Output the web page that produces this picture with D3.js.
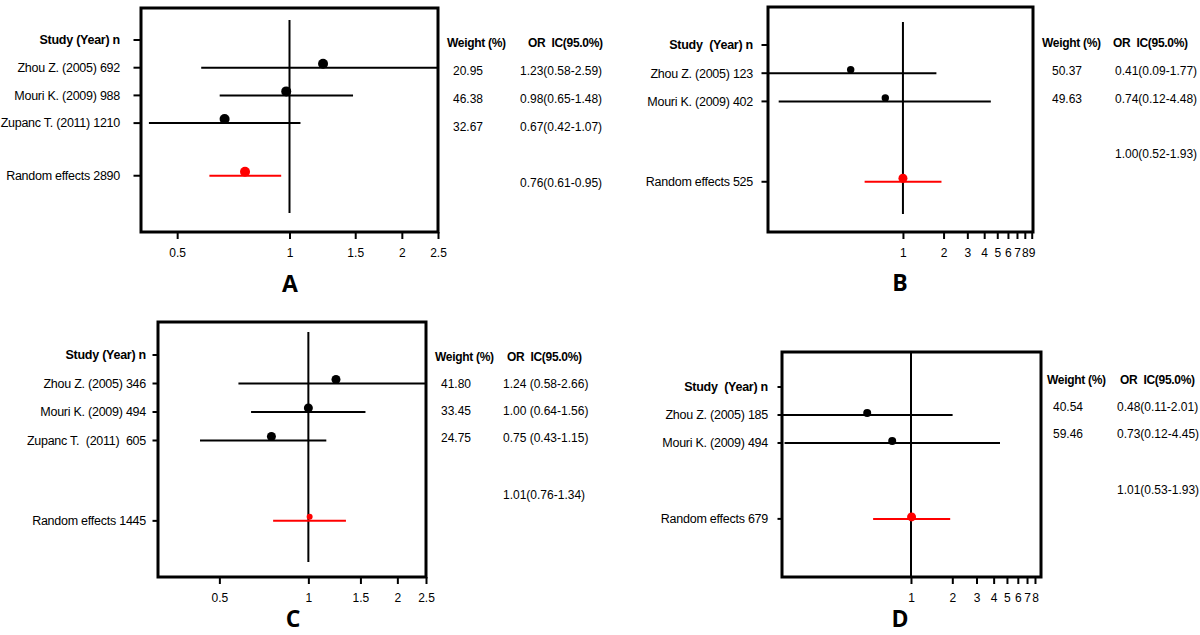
<!DOCTYPE html>
<html lang="en">
<head>
<meta charset="UTF-8">
<title>Forest plots A-D</title>
<script src="https://d3js.org/d3.v7.min.js"></script>
<style>
  body { margin: 0; background: #fff; }
  svg { display: block; font-family: "Liberation Sans", Arial, sans-serif; }
  .lbl { font-size: 12.5px; letter-spacing: -0.25px; white-space: pre; }
  .hdr { font-weight: bold; }
  .val { font-size: 12px; white-space: pre; }
  .col-hdr { font-size: 12px; font-weight: bold; letter-spacing: -0.3px; white-space: pre; }
  .axis text { font-size: 12px; font-family: "Liberation Sans", Arial, sans-serif; fill: #000; }
  .axis line { stroke: #000; stroke-width: 2; }
  .letter { font-family: "Open Sans", sans-serif; font-weight: bold; font-size: 23px; }
</style>
</head>
<body>
<svg id="chart" width="1200" height="635"></svg>
<script>
// ---- data ----
// A
const studiesA = ["Zhou Z. (2005) 692", "Mouri K. (2009) 988", "Zupanc T. (2011) 1210"];
const weightsA = [20.95, 46.38, 32.67];
const orA = [1.23, 0.98, 0.67];
const lowerA = [0.58, 0.65, 0.42];
const upperA = [2.59, 1.48, 1.07];
const pooledA = [0.76, 0.61, 0.95];   // OR, lower, upper
const ticksA = [0.5, 1, 1.5, 2, 2.5];

// B
const studiesB = ["Zhou Z. (2005) 123", "Mouri K. (2009) 402"];
const weightsB = [50.37, 49.63];
const orB = [0.41, 0.74];
const lowerB = [0.09, 0.12];
const upperB = [1.77, 4.48];
const pooledB = [1.00, 0.52, 1.93];
const ticksB = [1, 2, 3, 4, 5, 6, 7, 8, 9];

// C
const studiesC = ["Zhou Z. (2005) 346", "Mouri K. (2009) 494", "Zupanc T.  (2011)  605"];
const weightsC = [41.80, 33.45, 24.75];
const orC = [1.24, 1.00, 0.75];
const lowerC = [0.58, 0.64, 0.43];
const upperC = [2.66, 1.56, 1.15];
const pooledC = [1.01, 0.76, 1.34];
const ticksC = [0.5, 1, 1.5, 2, 2.5];

// D
const studiesD = ["Zhou Z. (2005) 185", "Mouri K. (2009) 494"];
const weightsD = [40.54, 59.46];
const orD = [0.48, 0.73];
const lowerD = [0.11, 0.12];
const upperD = [2.01, 4.45];
const pooledD = [1.01, 0.53, 1.93];
const ticksD = [1, 2, 3, 4, 5, 6, 7, 8];

const pooledLabels = ["Random effects 2890", "Random effects 525", "Random effects 1445", "Random effects 679"];

// ---- layout per panel ----
const panels = [
  { letter: "A", studies: studiesA, weights: weightsA, or: orA, lo: lowerA, hi: upperA, pooled: pooledA,
    pooledLabel: pooledLabels[0], header: "Study (Year) n", ticks: ticksA, domain: [0.4, 2.5],
    box: [141, 8, 438, 232], rowY0: 40, rowStep: 27.7, pooledRow: 4.9, tickLen: 6, labelX: 120,
    refTop: 20, refBottom: 213, dotR: 5, poolR: 5, dotDy: -4,
    colWh: 447, colW: 453, colORh: 528, colOR: 520, textY0: 43, textStep: 28, pooledTextRow: 5, sep: "",
    letterX: 290, letterY: 284 },
  { letter: "B", studies: studiesB, weights: weightsB, or: orB, lo: lowerB, hi: upperB, pooled: pooledB,
    pooledLabel: pooledLabels[1], header: "Study  (Year) n", ticks: ticksB, domain: [0.1, 9.2],
    box: [768, 7, 1033, 232], rowY0: 45, rowStep: 28.2, pooledRow: 4.85, tickLen: 5, labelX: 753,
    refTop: 22, refBottom: 214, dotR: 3.7, poolR: 4.5, dotDy: -3.5,
    colWh: 1042, colW: 1052, colORh: 1113, colOR: 1115, textY0: 43, textStep: 28, pooledTextRow: 3.96, sep: "",
    letterX: 900, letterY: 283 },
  { letter: "C", studies: studiesC, weights: weightsC, or: orC, lo: lowerC, hi: upperC, pooled: pooledC,
    pooledLabel: pooledLabels[2], header: "Study (Year) n", ticks: ticksC, domain: [0.31, 2.5],
    box: [158, 322, 426, 577], rowY0: 355, rowStep: 28.5, pooledRow: 5.82, tickLen: 4, labelX: 146,
    refTop: 332, refBottom: 562, dotR: 4.5, poolR: 3, dotDy: -4,
    colWh: 435, colW: 441, colORh: 507, colOR: 503, textY0: 357, textStep: 27, pooledTextRow: 5.1, sep: " ",
    letterX: 293, letterY: 619 },
  { letter: "D", studies: studiesD, weights: weightsD, or: orD, lo: lowerD, hi: upperD, pooled: pooledD,
    pooledLabel: pooledLabels[3], header: "Study  (Year) n", ticks: ticksD, domain: [0.115, 8.85],
    box: [782, 352, 1041, 577], rowY0: 387, rowStep: 28, pooledRow: 4.71, tickLen: 3, labelX: 768,
    refTop: 352, refBottom: 577, dotR: 4, poolR: 4.5, dotDy: -2,
    colWh: 1047, colW: 1053, colORh: 1120, colOR: 1117, textY0: 380, textStep: 27, pooledTextRow: 4.07, sep: "",
    letterX: 900, letterY: 619 }
];

const svg = d3.select("#chart");
const f2 = d3.format(".2f");

function drawPanel(p) {
  const [x0, y0, x1, y1] = p.box;
  const g = svg.append("g");
  const x = d3.scaleLog().domain(p.domain).range([x0, x1]).clamp(true);
  const y = d3.scaleLinear().domain([0, 1]).range([p.rowY0, p.rowY0 + p.rowStep]);
  const ty = d3.scaleLinear().domain([0, 1]).range([p.textY0, p.textY0 + p.textStep]);

  // bottom axis ticks
  const ax = g.append("g").attr("class", "axis")
    .attr("transform", `translate(0,${y1})`)
    .call(d3.axisBottom(x).tickValues(p.ticks).tickSize(7).tickPadding(9).tickFormat(d => d));
  ax.select(".domain").remove();

  // box
  g.append("rect")
    .attr("x", x0).attr("y", y0)
    .attr("width", x1 - x0).attr("height", y1 - y0)
    .attr("fill", "none").attr("stroke", "#000").attr("stroke-width", 3);

  // rows: header, studies, pooled
  const rows = [{ label: p.header, idx: 0, hdr: true }]
    .concat(p.studies.map((s, i) => ({ label: s, idx: i + 1 })))
    .concat([{ label: p.pooledLabel, idx: p.pooledRow }]);

  g.selectAll(".row-tick").data(rows).enter().append("line")
    .attr("x1", x0 - 1.5 - p.tickLen).attr("x2", x0)
    .attr("y1", d => y(d.idx)).attr("y2", d => y(d.idx))
    .attr("stroke", "#000").attr("stroke-width", 2);

  g.selectAll(".row-lbl").data(rows).enter().append("text")
    .attr("class", d => d.hdr ? "lbl hdr" : "lbl")
    .attr("x", p.labelX).attr("y", d => y(d.idx))
    .attr("dy", "0.35em").attr("text-anchor", "end")
    .text(d => d.label);

  // reference line at OR = 1
  g.append("line")
    .attr("x1", x(1)).attr("x2", x(1))
    .attr("y1", p.refTop).attr("y2", p.refBottom)
    .attr("stroke", "#000").attr("stroke-width", 2);

  // study CIs and points
  const st = p.studies.map((s, i) => ({ or: p.or[i], lo: p.lo[i], hi: p.hi[i], idx: i + 1 }));
  g.selectAll(".ci").data(st).enter().append("line")
    .attr("x1", d => x(d.lo)).attr("x2", d => x(d.hi))
    .attr("y1", d => y(d.idx)).attr("y2", d => y(d.idx))
    .attr("stroke", "#000").attr("stroke-width", 2);
  g.selectAll(".pt").data(st).enter().append("circle")
    .attr("cx", d => x(d.or)).attr("cy", d => y(d.idx) + p.dotDy)
    .attr("r", p.dotR).attr("fill", "#000");

  // pooled estimate
  const [por, plo, phi] = p.pooled;
  g.append("line")
    .attr("x1", x(plo)).attr("x2", x(phi))
    .attr("y1", y(p.pooledRow)).attr("y2", y(p.pooledRow))
    .attr("stroke", "#f00").attr("stroke-width", 2);
  g.append("circle")
    .attr("cx", x(por)).attr("cy", y(p.pooledRow) + p.dotDy)
    .attr("r", p.poolR).attr("fill", "#f00");

  // right-hand columns
  g.append("text").attr("class", "col-hdr")
    .attr("x", p.colWh).attr("y", ty(0)).attr("dy", "0.35em").text("Weight (%)");
  g.append("text").attr("class", "col-hdr")
    .attr("x", p.colORh).attr("y", ty(0)).attr("dy", "0.35em").text("OR  IC(95.0%)");

  g.selectAll(".wt").data(st).enter().append("text")
    .attr("class", "val")
    .attr("x", p.colW).attr("y", d => ty(d.idx)).attr("dy", "0.35em")
    .text((d, i) => f2(p.weights[i]));
  g.selectAll(".ortxt").data(st).enter().append("text")
    .attr("class", "val")
    .attr("x", p.colOR).attr("y", d => ty(d.idx)).attr("dy", "0.35em")
    .text(d => `${f2(d.or)}${p.sep}(${f2(d.lo)}-${f2(d.hi)})`);
  g.append("text").attr("class", "val")
    .attr("x", p.colOR).attr("y", ty(p.pooledTextRow)).attr("dy", "0.35em")
    .text(`${f2(por)}(${f2(plo)}-${f2(phi)})`);

  // panel letter
  g.append("text").attr("class", "letter")
    .attr("x", p.letterX).attr("y", p.letterY).attr("dy", "0.36em")
    .attr("text-anchor", "middle").text(p.letter);
}

panels.forEach(drawPanel);
</script>
</body>
</html>
